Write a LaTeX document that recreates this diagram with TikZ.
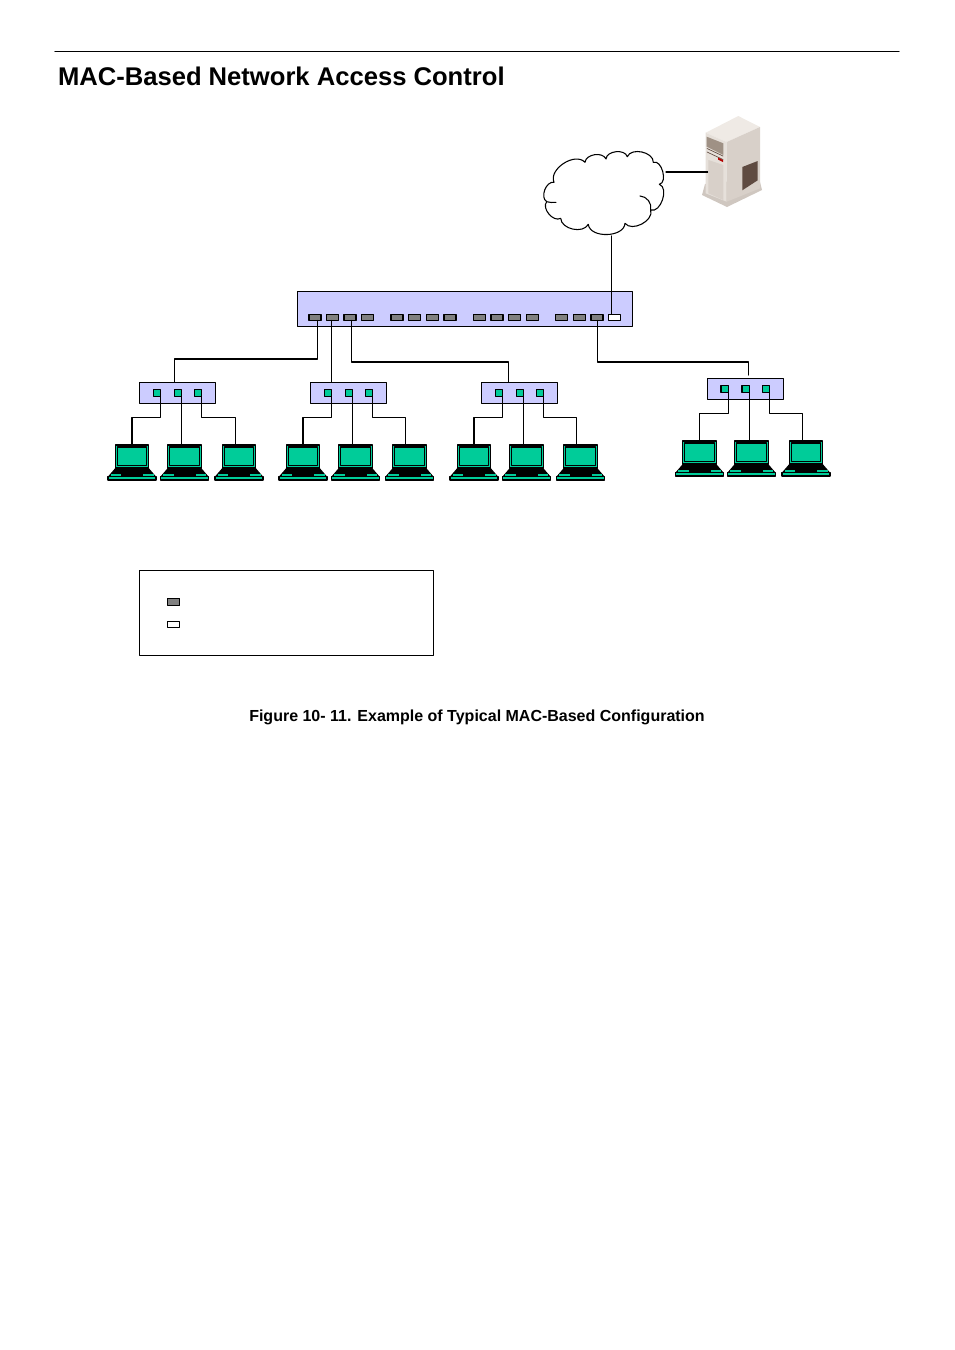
\documentclass[tikz,border=0pt]{standalone}
\usepackage{fontspec}
\setmainfont{Liberation Sans}
\definecolor{lapgreen}{HTML}{00CC99}
\definecolor{hubblue}{HTML}{CCCCFF}
\definecolor{portgray}{HTML}{808080}
\definecolor{srvtop}{HTML}{EFEAE5}
\definecolor{srvfront}{HTML}{E6E0DA}
\definecolor{srvside}{HTML}{D8D0C9}
\definecolor{srvbase}{HTML}{CFC7C0}
\definecolor{srvpanel}{HTML}{9F9185}
\definecolor{srvdark}{HTML}{5F4B41}
\begin{document}
\begin{tikzpicture}[line join=round,line cap=round,x=0.75pt,y=-0.75pt,line width=0.8pt]
	\tikzset{every node/.style={inner sep=0pt,outer sep=0pt}}
	\tikzset{switchbox/.style={draw,fill=hubblue,minimum width=251.25pt,minimum height=26.25pt}}
	\tikzset{hubbox/.style={draw,fill=hubblue,minimum width=57pt,minimum height=15.75pt}}
	\tikzset{swport/.style={draw,fill=portgray,minimum width=9pt,minimum height=4.5pt}}
	\tikzset{hubport/.style={draw,fill=lapgreen,minimum width=5.3pt,minimum height=5.5pt}}
	\tikzset{legendbox/.style={draw,minimum width=220.8pt,minimum height=64pt}}
	\tikzset{laptop/.pic={
		\node[draw,fill=lapgreen,minimum width=25pt,minimum height=17.25pt] (-scr) at (0,11.5) {};
		\draw (-14.7,2) rectangle (14.7,20.5);
		\fill[black] (-16.7,23)--(16.7,23)--(24,31.5)--(-24,31.5)--cycle;
		\fill[lapgreen] (-21.5,29.3) rectangle (-11,31);
		\fill[lapgreen] (11,29.3) rectangle (21.5,31);
		\draw[fill=lapgreen] (-24,31.5) rectangle (24,35);
	}}
	\useasboundingbox (0,0) rectangle (954,1350);
	\draw (55,51.5)--(899,51.5);
	\node[anchor=base west] (title) at (58,85.5) {\fontsize{19.2}{24}\bfseries MAC-Based Network Access Control};
	\node (caption) at (477,717.5) {\fontsize{12}{14}\bfseries Figure 10- 11. Example of Typical MAC-Based Configuration};
	% cloud
	\draw[fill=white] (554,182.3) to[bend left=80] (585,162.3) to[bend left=75] (606,159) to[bend left=80] (627.3,156.7)
		to[bend left=80] (653.3,162.3) to[bend left=95] (659.3,184.3) to[bend left=90] (650.7,210)
		to[bend left=80] (625,223.3) to[bend left=85] (588.3,224.3) to[bend left=75] (560.7,218.3)
		to[bend left=80] (546.7,201.7) to[bend left=80] cycle;
	\draw (640,196) to[bend left=50] (650.7,210);
	\draw (546.7,201.7) to[bend right=10] (556,202.3);
	\coordinate (cloudE) at (666,172);
	\coordinate (cloudS) at (611.7,236);
	% server
	\fill[srvbase] (702,195)--(727,207)--(762,190)--(759,178)--(705,184)--cycle;
	\fill[srvtop] (705.7,132.7)--(738.3,116)--(760,127)--(726.7,142)--cycle;
	\fill[srvfront] (705.7,132.7)--(726.7,142)--(726.7,201.7)--(705.7,193.3)--cycle;
	\fill[srvside] (726.7,142)--(760,127)--(760,188.3)--(726.7,201.7)--cycle;
	\fill[srvpanel] (706.7,136.7)--(723.3,143.3)--(723.3,155)--(706.7,146.7)--cycle;
	\fill[srvdark] (742.3,167)--(757.7,161)--(757.7,180.3)--(742.3,190.3)--cycle;
	\fill[srvside] (708.3,160)--(723.3,165)--(723.3,200)--(708.3,193.3)--cycle;
	\draw[srvdark,line width=0.5pt] (707,148.5)--(723,156);
	\draw[srvdark,line width=0.5pt] (707,152)--(723,159.5);
	\fill[red!70!black] (718,157.5)--(723,160)--(723,162)--(718,159.5)--cycle;
	\coordinate (serverW) at (707.7,172);
	\draw (cloudE)--(serverW);
	% switch
	\node[switchbox] (switch) at (465,308.8) {};
	\foreach \n/\x in {1/315,2/332.5,3/350,4/367.5,5/397,6/414.5,7/432.5,8/450,9/479.5,10/497,11/514.5,12/532.5,13/561.5,14/579.5,15/597}
	{
		\node[swport] (sp\n) at (\x,317.3) {};
	}
	\node[swport,fill=white] (sp16) at (614.5,317.3) {};
	\draw (cloudS)--(cloudS |- sp16.north);
	% hubs and laptops
	\foreach \h/\x/\y/\la/\lb/\lc/\ly in {hubA/177.3/392.8/132/184.5/239/445,hubB/348.3/392.8/303/355.5/409.5/445,hubC/519.3/392.8/474/526.5/580.5/445,hubD/745.2/388.8/699.5/751.5/806/441}
	{
		\node[hubbox] (\h) at (\x,\y) {};
		\node[hubport] (\h p1) at (\x-20.7,\y) {};
		\node[hubport] (\h p2) at (\x+0.3,\y) {};
		\node[hubport] (\h p3) at (\x+20.7,\y) {};
		\pic (\h la) at (\la,\ly) {laptop};
		\pic (\h lb) at (\lb,\ly) {laptop};
		\pic (\h lc) at (\lc,\ly) {laptop};
		\draw (\h p1.south east)--++(0,20.6)-|(\h la-scr.north);
		\draw (\h p2.south east)--(\h p2.south east |- \h lb-scr.north);
		\draw (\h p3.south east)--++(0,20.6)-|([xshift=-2.7pt]\h lc-scr.north);
	}
	\draw ([xshift=1.8pt]sp1.south)--++(0,38.7)-|([xshift=-2.1pt]hubA.north);
	\draw ([xshift=-0.9pt]sp2.south)--([xshift=-0.9pt]sp2.south |- hubB.north);
	\draw ([xshift=1.2pt]sp3.south)--++(0,41.7)-|([xshift=-8.1pt]hubC.north);
	\coordinate (hubDtop) at (748.5,375);
	\draw ([xshift=0.4pt]sp15.south)--++(0,41.7)-|(hubDtop);
	% legend
	\node[legendbox] (legend) at (286.5,613) {};
	\node[swport,minimum height=5.5pt] (keyA) at (173.5,602) {};
	\node[swport,fill=white] (keyB) at (173.5,624.5) {};
\end{tikzpicture}
\end{document}
